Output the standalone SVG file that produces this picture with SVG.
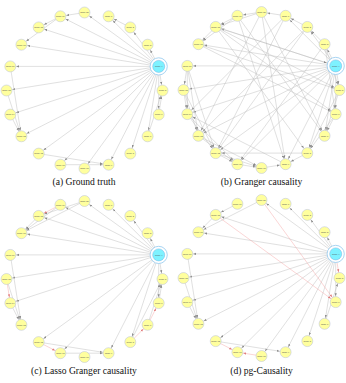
<svg xmlns="http://www.w3.org/2000/svg" width="346" height="383" viewBox="0 0 346 383">
<style>
.e line{stroke:#b9b9b9;stroke-width:.45;fill:none;marker-end:url(#a)}
.e line.r{stroke:#f3a3a3;marker-end:url(#ar)}
.e line.h{marker-end:url(#ah)}
.n circle{fill:#ffff9e;stroke:#b7bedb;stroke-width:.5}
.n circle.hub{fill:#7ef2ff;stroke:#6fb3e6;stroke-width:.5}
.n circle.ring{fill:#ffffff;stroke:#93c9ef;stroke-width:.8}
.n text{font-family:"Liberation Sans",Arial,sans-serif;font-size:2.3px;fill:#555;text-anchor:middle}
</style>
<defs>
<marker id="a" viewBox="0 -1.5 9 3" refX="8.9" refY="0" markerWidth="9" markerHeight="3" markerUnits="userSpaceOnUse" orient="auto"><path d="M0,-1.1L3,0L0,1.1Z" fill="#8a8a8a"/></marker>
<marker id="ar" viewBox="0 -1.5 9 3" refX="8.9" refY="0" markerWidth="9" markerHeight="3" markerUnits="userSpaceOnUse" orient="auto"><path d="M0,-1.1L3,0L0,1.1Z" fill="#e07a7a"/></marker>
<marker id="ah" viewBox="0 -1.5 13 3" refX="12.4" refY="0" markerWidth="13" markerHeight="3" markerUnits="userSpaceOnUse" orient="auto"><path d="M0,-1.1L3,0L0,1.1Z" fill="#8a8a8a"/></marker>
</defs>
<rect width="346" height="383" fill="#fff"/>

<!-- Panel (a) -->
<g id="panel-a" transform="translate(84.5,90.5)">
<g id="a-edges" class="e">
<line x1="74.2" y1="-24.1" x2="0" y2="-78"/>
<line x1="74.2" y1="-24.1" x2="24.1" y2="-74.2"/>
<line x1="74.2" y1="-24.1" x2="45.8" y2="-63.1"/>
<line x1="74.2" y1="-24.1" x2="63.1" y2="-45.8"/>
<line x1="74.2" y1="-24.1" x2="78" y2="0"/>
<line x1="74.2" y1="-24.1" x2="74.2" y2="24.1"/>
<line x1="74.2" y1="-24.1" x2="63.1" y2="45.8"/>
<line x1="74.2" y1="-24.1" x2="45.8" y2="63.1"/>
<line x1="74.2" y1="-24.1" x2="24.1" y2="74.2"/>
<line x1="74.2" y1="-24.1" x2="0" y2="78"/>
<line x1="74.2" y1="-24.1" x2="-24.1" y2="74.2"/>
<line x1="74.2" y1="-24.1" x2="-45.8" y2="63.1"/>
<line x1="74.2" y1="-24.1" x2="-63.1" y2="45.8"/>
<line x1="74.2" y1="-24.1" x2="-74.2" y2="24.1"/>
<line x1="74.2" y1="-24.1" x2="-78" y2="0"/>
<line x1="74.2" y1="-24.1" x2="-74.2" y2="-24.1"/>
<line x1="74.2" y1="-24.1" x2="-63.1" y2="-45.8"/>
<line x1="74.2" y1="-24.1" x2="-45.8" y2="-63.1"/>
<line x1="74.2" y1="-24.1" x2="-24.1" y2="-74.2"/>
<line x1="0" y1="-78" x2="-24.1" y2="-74.2"/>
<line x1="-24.1" y1="-74.2" x2="-45.8" y2="-63.1"/>
<line x1="-24.1" y1="-74.2" x2="-63.1" y2="-45.8"/>
<line x1="45.8" y1="-63.1" x2="24.1" y2="-74.2"/>
<line x1="-74.2" y1="-24.1" x2="-63.1" y2="45.8"/>
<line x1="-78" y1="0" x2="-63.1" y2="45.8"/>
<line x1="-74.2" y1="24.1" x2="-63.1" y2="45.8"/>
<line x1="-45.8" y1="63.1" x2="24.1" y2="74.2"/>
<line x1="-24.1" y1="74.2" x2="24.1" y2="74.2"/>
<line x1="63.1" y1="45.8" x2="78" y2="0"/>
<line x1="74.2" y1="24.1" x2="78" y2="0"/>
</g>
<g class="n">
<g id="a-n0" transform="translate(0,-78)"><circle r="5.5"/><text y=".8">Node 20</text></g>
<g id="a-n1" transform="translate(24.1,-74.2)"><circle r="5.5"/><text y=".8">Node 1</text></g>
<g id="a-n2" transform="translate(45.8,-63.1)"><circle r="5.5"/><text y=".8">Node 2</text></g>
<g id="a-n3" transform="translate(63.1,-45.8)"><circle r="5.5"/><text y=".8">Node 3</text></g>
<g id="a-n4" transform="translate(74.2,-24.1)"><circle class="ring" r="8.6"/><circle class="hub" r="6"/><text y=".8">Node 4</text></g>
<g id="a-n5" transform="translate(78,0)"><circle r="5.5"/><text y=".8">Node 5</text></g>
<g id="a-n6" transform="translate(74.2,24.1)"><circle r="5.5"/><text y=".8">Node 6</text></g>
<g id="a-n7" transform="translate(63.1,45.8)"><circle r="5.5"/><text y=".8">Node 7</text></g>
<g id="a-n8" transform="translate(45.8,63.1)"><circle r="5.5"/><text y=".8">Node 8</text></g>
<g id="a-n9" transform="translate(24.1,74.2)"><circle r="5.5"/><text y=".8">Node 9</text></g>
<g id="a-n10" transform="translate(0,78)"><circle r="5.5"/><text y=".8">Node 10</text></g>
<g id="a-n11" transform="translate(-24.1,74.2)"><circle r="5.5"/><text y=".8">Node 11</text></g>
<g id="a-n12" transform="translate(-45.8,63.1)"><circle r="5.5"/><text y=".8">Node 12</text></g>
<g id="a-n13" transform="translate(-63.1,45.8)"><circle r="5.5"/><text y=".8">Node 13</text></g>
<g id="a-n14" transform="translate(-74.2,24.1)"><circle r="5.5"/><text y=".8">Node 14</text></g>
<g id="a-n15" transform="translate(-78,0)"><circle r="5.5"/><text y=".8">Node 15</text></g>
<g id="a-n16" transform="translate(-74.2,-24.1)"><circle r="5.5"/><text y=".8">Node 16</text></g>
<g id="a-n17" transform="translate(-63.1,-45.8)"><circle r="5.5"/><text y=".8">Node 17</text></g>
<g id="a-n18" transform="translate(-45.8,-63.1)"><circle r="5.5"/><text y=".8">Node 18</text></g>
<g id="a-n19" transform="translate(-24.1,-74.2)"><circle r="5.5"/><text y=".8">Node 19</text></g>
</g>
</g>
<text x="84" y="185" style="font-family:'Liberation Serif','Times New Roman',serif;font-size:9.6px;fill:#111;text-anchor:middle">(a) Ground truth</text>

<!-- Panel (b) -->
<g id="panel-b" transform="translate(261.5,90)">
<g id="b-edges" class="e">
<line x1="74.2" y1="-24.1" x2="24.1" y2="-74.2"/>
<line x1="74.2" y1="-24.1" x2="45.8" y2="-63.1"/>
<line x1="74.2" y1="-24.1" x2="63.1" y2="-45.8"/>
<line x1="74.2" y1="-24.1" x2="78" y2="0"/>
<line x1="74.2" y1="-24.1" x2="74.2" y2="24.1"/>
<line x1="74.2" y1="-24.1" x2="63.1" y2="45.8"/>
<line x1="74.2" y1="-24.1" x2="45.8" y2="63.1"/>
<line x1="74.2" y1="-24.1" x2="24.1" y2="74.2"/>
<line x1="74.2" y1="-24.1" x2="-24.1" y2="74.2"/>
<line x1="74.2" y1="-24.1" x2="-45.8" y2="63.1"/>
<line x1="74.2" y1="-24.1" x2="-63.1" y2="45.8"/>
<line x1="74.2" y1="-24.1" x2="-74.2" y2="24.1"/>
<line x1="74.2" y1="-24.1" x2="-78" y2="0"/>
<line x1="74.2" y1="-24.1" x2="-74.2" y2="-24.1"/>
<line x1="74.2" y1="-24.1" x2="-63.1" y2="-45.8"/>
<line x1="74.2" y1="-24.1" x2="-45.8" y2="-63.1"/>
<line class="h" x1="-45.8" y1="-63.1" x2="74.2" y2="-24.1"/>
<line x1="-24.1" y1="-74.2" x2="63.1" y2="45.8"/>
<line x1="-45.8" y1="-63.1" x2="74.2" y2="24.1"/>
<line x1="-45.8" y1="-63.1" x2="45.8" y2="63.1"/>
<line x1="0" y1="-78" x2="24.1" y2="74.2"/>
<line x1="-63.1" y1="-45.8" x2="78" y2="0"/>
<line x1="24.1" y1="-74.2" x2="-74.2" y2="24.1"/>
<line x1="45.8" y1="-63.1" x2="-63.1" y2="45.8"/>
<line x1="24.1" y1="-74.2" x2="-45.8" y2="63.1"/>
<line x1="-24.1" y1="-74.2" x2="24.1" y2="74.2"/>
<line x1="63.1" y1="-45.8" x2="-24.1" y2="74.2"/>
<line x1="45.8" y1="-63.1" x2="-45.8" y2="63.1"/>
<line x1="0" y1="-78" x2="63.1" y2="45.8"/>
<line x1="-45.8" y1="-63.1" x2="78" y2="0"/>
<line x1="-63.1" y1="-45.8" x2="74.2" y2="24.1"/>
<line x1="24.1" y1="74.2" x2="-74.2" y2="24.1"/>
<line x1="45.8" y1="63.1" x2="-45.8" y2="63.1"/>
<line x1="0" y1="-78" x2="-63.1" y2="45.8"/>
<line x1="-74.2" y1="-24.1" x2="-74.2" y2="24.1"/>
<line x1="-74.2" y1="-24.1" x2="-63.1" y2="45.8"/>
<line x1="-74.2" y1="-24.1" x2="-45.8" y2="63.1"/>
<line x1="-78" y1="0" x2="-63.1" y2="45.8"/>
<line x1="-78" y1="0" x2="-45.8" y2="63.1"/>
<line x1="-74.2" y1="24.1" x2="-45.8" y2="63.1"/>
<line x1="-74.2" y1="24.1" x2="-24.1" y2="74.2"/>
<line x1="-63.1" y1="45.8" x2="-24.1" y2="74.2"/>
<line x1="-63.1" y1="45.8" x2="0" y2="78"/>
<line x1="-45.8" y1="63.1" x2="0" y2="78"/>
<line x1="-78" y1="0" x2="-74.2" y2="24.1"/>
<line x1="-45.8" y1="63.1" x2="-24.1" y2="74.2"/>
<line x1="-24.1" y1="74.2" x2="0" y2="78"/>
<line x1="0" y1="78" x2="24.1" y2="74.2"/>
<line x1="-74.2" y1="-24.1" x2="-78" y2="0"/>
<line x1="0" y1="-78" x2="-24.1" y2="-74.2"/>
<line x1="-24.1" y1="-74.2" x2="-45.8" y2="-63.1"/>
<line x1="-45.8" y1="-63.1" x2="-63.1" y2="-45.8"/>
<line x1="0" y1="-78" x2="-45.8" y2="-63.1"/>
<line x1="-24.1" y1="-74.2" x2="-63.1" y2="-45.8"/>
<line x1="45.8" y1="-63.1" x2="24.1" y2="-74.2"/>
<line x1="63.1" y1="-45.8" x2="45.8" y2="-63.1"/>
<line x1="24.1" y1="-74.2" x2="0" y2="-78"/>
<line x1="63.1" y1="-45.8" x2="78" y2="0"/>
<line x1="63.1" y1="-45.8" x2="74.2" y2="24.1"/>
<line x1="78" y1="0" x2="63.1" y2="45.8"/>
<line x1="74.2" y1="24.1" x2="45.8" y2="63.1"/>
<line x1="78" y1="0" x2="45.8" y2="63.1"/>
<line x1="74.2" y1="24.1" x2="63.1" y2="45.8"/>
<line x1="45.8" y1="63.1" x2="24.1" y2="74.2"/>
</g>
<g class="n">
<g id="b-n0" transform="translate(0,-78)"><circle r="5.5"/><text y=".8">Node 20</text></g>
<g id="b-n1" transform="translate(24.1,-74.2)"><circle r="5.5"/><text y=".8">Node 1</text></g>
<g id="b-n2" transform="translate(45.8,-63.1)"><circle r="5.5"/><text y=".8">Node 2</text></g>
<g id="b-n3" transform="translate(63.1,-45.8)"><circle r="5.5"/><text y=".8">Node 3</text></g>
<g id="b-n4" transform="translate(74.2,-24.1)"><circle class="ring" r="8.6"/><circle class="hub" r="6"/><text y=".8">Node 4</text></g>
<g id="b-n5" transform="translate(78,0)"><circle r="5.5"/><text y=".8">Node 5</text></g>
<g id="b-n6" transform="translate(74.2,24.1)"><circle r="5.5"/><text y=".8">Node 6</text></g>
<g id="b-n7" transform="translate(63.1,45.8)"><circle r="5.5"/><text y=".8">Node 7</text></g>
<g id="b-n8" transform="translate(45.8,63.1)"><circle r="5.5"/><text y=".8">Node 8</text></g>
<g id="b-n9" transform="translate(24.1,74.2)"><circle r="5.5"/><text y=".8">Node 9</text></g>
<g id="b-n10" transform="translate(0,78)"><circle r="5.5"/><text y=".8">Node 10</text></g>
<g id="b-n11" transform="translate(-24.1,74.2)"><circle r="5.5"/><text y=".8">Node 11</text></g>
<g id="b-n12" transform="translate(-45.8,63.1)"><circle r="5.5"/><text y=".8">Node 12</text></g>
<g id="b-n13" transform="translate(-63.1,45.8)"><circle r="5.5"/><text y=".8">Node 13</text></g>
<g id="b-n14" transform="translate(-74.2,24.1)"><circle r="5.5"/><text y=".8">Node 14</text></g>
<g id="b-n15" transform="translate(-78,0)"><circle r="5.5"/><text y=".8">Node 15</text></g>
<g id="b-n16" transform="translate(-74.2,-24.1)"><circle r="5.5"/><text y=".8">Node 16</text></g>
<g id="b-n17" transform="translate(-63.1,-45.8)"><circle r="5.5"/><text y=".8">Node 17</text></g>
<g id="b-n18" transform="translate(-45.8,-63.1)"><circle r="5.5"/><text y=".8">Node 18</text></g>
<g id="b-n19" transform="translate(-24.1,-74.2)"><circle r="5.5"/><text y=".8">Node 19</text></g>
</g>
</g>
<text x="261.5" y="185" style="font-family:'Liberation Serif','Times New Roman',serif;font-size:9.6px;fill:#111;text-anchor:middle">(b) Granger causality</text>

<!-- Panel (c) -->
<g id="panel-c" transform="translate(84.5,279)">
<g id="c-edges" class="e">
<line x1="74.2" y1="-24.1" x2="0" y2="-78"/>
<line x1="74.2" y1="-24.1" x2="24.1" y2="-74.2"/>
<line x1="74.2" y1="-24.1" x2="45.8" y2="-63.1"/>
<line x1="74.2" y1="-24.1" x2="63.1" y2="-45.8"/>
<line x1="74.2" y1="-24.1" x2="-24.1" y2="-74.2"/>
<line x1="74.2" y1="-24.1" x2="-45.8" y2="-63.1"/>
<line x1="74.2" y1="-24.1" x2="-63.1" y2="-45.8"/>
<line x1="74.2" y1="-24.1" x2="-74.2" y2="-24.1"/>
<line x1="74.2" y1="-24.1" x2="-78" y2="0"/>
<line x1="74.2" y1="-24.1" x2="-74.2" y2="24.1"/>
<line x1="74.2" y1="-24.1" x2="-45.8" y2="63.1"/>
<line x1="74.2" y1="-24.1" x2="-24.1" y2="74.2"/>
<line x1="74.2" y1="-24.1" x2="24.1" y2="74.2"/>
<line x1="74.2" y1="-24.1" x2="45.8" y2="63.1"/>
<line x1="74.2" y1="-24.1" x2="74.2" y2="24.1"/>
<line x1="74.2" y1="-24.1" x2="78" y2="0"/>
<line x1="0" y1="-78" x2="-45.8" y2="-63.1"/>
<line x1="0" y1="-78" x2="-63.1" y2="-45.8"/>
<line x1="-24.1" y1="-74.2" x2="-63.1" y2="-45.8"/>
<line x1="-45.8" y1="-63.1" x2="-63.1" y2="-45.8"/>
<line class="r" x1="-24.1" y1="-74.2" x2="-45.8" y2="-63.1"/>
<line x1="-74.2" y1="-24.1" x2="-63.1" y2="45.8"/>
<line class="r" x1="-78" y1="0" x2="-74.2" y2="24.1"/>
<line x1="-78" y1="0" x2="-63.1" y2="45.8"/>
<line x1="-74.2" y1="24.1" x2="-63.1" y2="45.8"/>
<line class="r" x1="-45.8" y1="63.1" x2="-24.1" y2="74.2"/>
<line x1="-45.8" y1="63.1" x2="24.1" y2="74.2"/>
<line x1="-24.1" y1="74.2" x2="24.1" y2="74.2"/>
<line class="r" x1="45.8" y1="63.1" x2="63.1" y2="45.8"/>
<line class="r" x1="63.1" y1="45.8" x2="74.2" y2="24.1"/>
<line x1="45.8" y1="63.1" x2="78" y2="0"/>
<line x1="63.1" y1="45.8" x2="78" y2="0"/>
<line x1="74.2" y1="24.1" x2="78" y2="0"/>
</g>
<g class="n">
<g id="c-n0" transform="translate(0,-78)"><circle r="5.5"/><text y=".8">Node 20</text></g>
<g id="c-n1" transform="translate(24.1,-74.2)"><circle r="5.5"/><text y=".8">Node 1</text></g>
<g id="c-n2" transform="translate(45.8,-63.1)"><circle r="5.5"/><text y=".8">Node 2</text></g>
<g id="c-n3" transform="translate(63.1,-45.8)"><circle r="5.5"/><text y=".8">Node 3</text></g>
<g id="c-n4" transform="translate(74.2,-24.1)"><circle class="ring" r="8.6"/><circle class="hub" r="6"/><text y=".8">Node 4</text></g>
<g id="c-n5" transform="translate(78,0)"><circle r="5.5"/><text y=".8">Node 5</text></g>
<g id="c-n6" transform="translate(74.2,24.1)"><circle r="5.5"/><text y=".8">Node 6</text></g>
<g id="c-n7" transform="translate(63.1,45.8)"><circle r="5.5"/><text y=".8">Node 7</text></g>
<g id="c-n8" transform="translate(45.8,63.1)"><circle r="5.5"/><text y=".8">Node 8</text></g>
<g id="c-n9" transform="translate(24.1,74.2)"><circle r="5.5"/><text y=".8">Node 9</text></g>
<g id="c-n10" transform="translate(0,78)"><circle r="5.5"/><text y=".8">Node 10</text></g>
<g id="c-n11" transform="translate(-24.1,74.2)"><circle r="5.5"/><text y=".8">Node 11</text></g>
<g id="c-n12" transform="translate(-45.8,63.1)"><circle r="5.5"/><text y=".8">Node 12</text></g>
<g id="c-n13" transform="translate(-63.1,45.8)"><circle r="5.5"/><text y=".8">Node 13</text></g>
<g id="c-n14" transform="translate(-74.2,24.1)"><circle r="5.5"/><text y=".8">Node 14</text></g>
<g id="c-n15" transform="translate(-78,0)"><circle r="5.5"/><text y=".8">Node 15</text></g>
<g id="c-n16" transform="translate(-74.2,-24.1)"><circle r="5.5"/><text y=".8">Node 16</text></g>
<g id="c-n17" transform="translate(-63.1,-45.8)"><circle r="5.5"/><text y=".8">Node 17</text></g>
<g id="c-n18" transform="translate(-45.8,-63.1)"><circle r="5.5"/><text y=".8">Node 18</text></g>
<g id="c-n19" transform="translate(-24.1,-74.2)"><circle r="5.5"/><text y=".8">Node 19</text></g>
</g>
</g>
<text x="84" y="373.5" style="font-family:'Liberation Serif','Times New Roman',serif;font-size:9.6px;fill:#111;text-anchor:middle">(c) Lasso Granger causality</text>

<!-- Panel (d) -->
<g id="panel-d" transform="translate(261.5,278)">
<g id="d-edges" class="e">
<line x1="74.2" y1="-24.1" x2="0" y2="-78"/>
<line x1="74.2" y1="-24.1" x2="24.1" y2="-74.2"/>
<line x1="74.2" y1="-24.1" x2="45.8" y2="-63.1"/>
<line x1="74.2" y1="-24.1" x2="63.1" y2="-45.8"/>
<line x1="74.2" y1="-24.1" x2="-45.8" y2="-63.1"/>
<line x1="74.2" y1="-24.1" x2="-63.1" y2="-45.8"/>
<line x1="74.2" y1="-24.1" x2="-74.2" y2="-24.1"/>
<line x1="74.2" y1="-24.1" x2="-78" y2="0"/>
<line x1="74.2" y1="-24.1" x2="-74.2" y2="24.1"/>
<line x1="74.2" y1="-24.1" x2="-63.1" y2="45.8"/>
<line x1="74.2" y1="-24.1" x2="-45.8" y2="63.1"/>
<line x1="74.2" y1="-24.1" x2="-24.1" y2="74.2"/>
<line x1="74.2" y1="-24.1" x2="0" y2="78"/>
<line x1="74.2" y1="-24.1" x2="24.1" y2="74.2"/>
<line x1="74.2" y1="-24.1" x2="45.8" y2="63.1"/>
<line x1="74.2" y1="-24.1" x2="63.1" y2="45.8"/>
<line x1="74.2" y1="-24.1" x2="74.2" y2="24.1"/>
<line class="r" x1="74.2" y1="-24.1" x2="78" y2="0"/>
<line x1="0" y1="-78" x2="-63.1" y2="-45.8"/>
<line x1="-24.1" y1="-74.2" x2="-45.8" y2="-63.1"/>
<line x1="-45.8" y1="-63.1" x2="-63.1" y2="-45.8"/>
<line class="r" x1="0" y1="-78" x2="74.2" y2="24.1"/>
<line class="r" x1="-45.8" y1="-63.1" x2="74.2" y2="24.1"/>
<line x1="-74.2" y1="-24.1" x2="-63.1" y2="45.8"/>
<line x1="-78" y1="0" x2="-63.1" y2="45.8"/>
<line x1="-74.2" y1="24.1" x2="-63.1" y2="45.8"/>
<line class="r" x1="-45.8" y1="63.1" x2="-24.1" y2="74.2"/>
<line class="r" x1="0" y1="78" x2="-24.1" y2="74.2"/>
<line x1="-45.8" y1="63.1" x2="24.1" y2="74.2"/>
<line x1="63.1" y1="45.8" x2="78" y2="0"/>
</g>
<g class="n">
<g id="d-n0" transform="translate(0,-78)"><circle r="5.5"/><text y=".8">Node 20</text></g>
<g id="d-n1" transform="translate(24.1,-74.2)"><circle r="5.5"/><text y=".8">Node 1</text></g>
<g id="d-n2" transform="translate(45.8,-63.1)"><circle r="5.5"/><text y=".8">Node 2</text></g>
<g id="d-n3" transform="translate(63.1,-45.8)"><circle r="5.5"/><text y=".8">Node 3</text></g>
<g id="d-n4" transform="translate(74.2,-24.1)"><circle class="ring" r="8.6"/><circle class="hub" r="6"/><text y=".8">Node 4</text></g>
<g id="d-n5" transform="translate(78,0)"><circle r="5.5"/><text y=".8">Node 5</text></g>
<g id="d-n6" transform="translate(74.2,24.1)"><circle r="5.5"/><text y=".8">Node 6</text></g>
<g id="d-n7" transform="translate(63.1,45.8)"><circle r="5.5"/><text y=".8">Node 7</text></g>
<g id="d-n8" transform="translate(45.8,63.1)"><circle r="5.5"/><text y=".8">Node 8</text></g>
<g id="d-n9" transform="translate(24.1,74.2)"><circle r="5.5"/><text y=".8">Node 9</text></g>
<g id="d-n10" transform="translate(0,78)"><circle r="5.5"/><text y=".8">Node 10</text></g>
<g id="d-n11" transform="translate(-24.1,74.2)"><circle r="5.5"/><text y=".8">Node 11</text></g>
<g id="d-n12" transform="translate(-45.8,63.1)"><circle r="5.5"/><text y=".8">Node 12</text></g>
<g id="d-n13" transform="translate(-63.1,45.8)"><circle r="5.5"/><text y=".8">Node 13</text></g>
<g id="d-n14" transform="translate(-74.2,24.1)"><circle r="5.5"/><text y=".8">Node 14</text></g>
<g id="d-n15" transform="translate(-78,0)"><circle r="5.5"/><text y=".8">Node 15</text></g>
<g id="d-n16" transform="translate(-74.2,-24.1)"><circle r="5.5"/><text y=".8">Node 16</text></g>
<g id="d-n17" transform="translate(-63.1,-45.8)"><circle r="5.5"/><text y=".8">Node 17</text></g>
<g id="d-n18" transform="translate(-45.8,-63.1)"><circle r="5.5"/><text y=".8">Node 18</text></g>
<g id="d-n19" transform="translate(-24.1,-74.2)"><circle r="5.5"/><text y=".8">Node 19</text></g>
</g>
</g>
<text x="261.5" y="373.5" style="font-family:'Liberation Serif','Times New Roman',serif;font-size:9.6px;fill:#111;text-anchor:middle">(d) pg-Causality</text>
</svg>
